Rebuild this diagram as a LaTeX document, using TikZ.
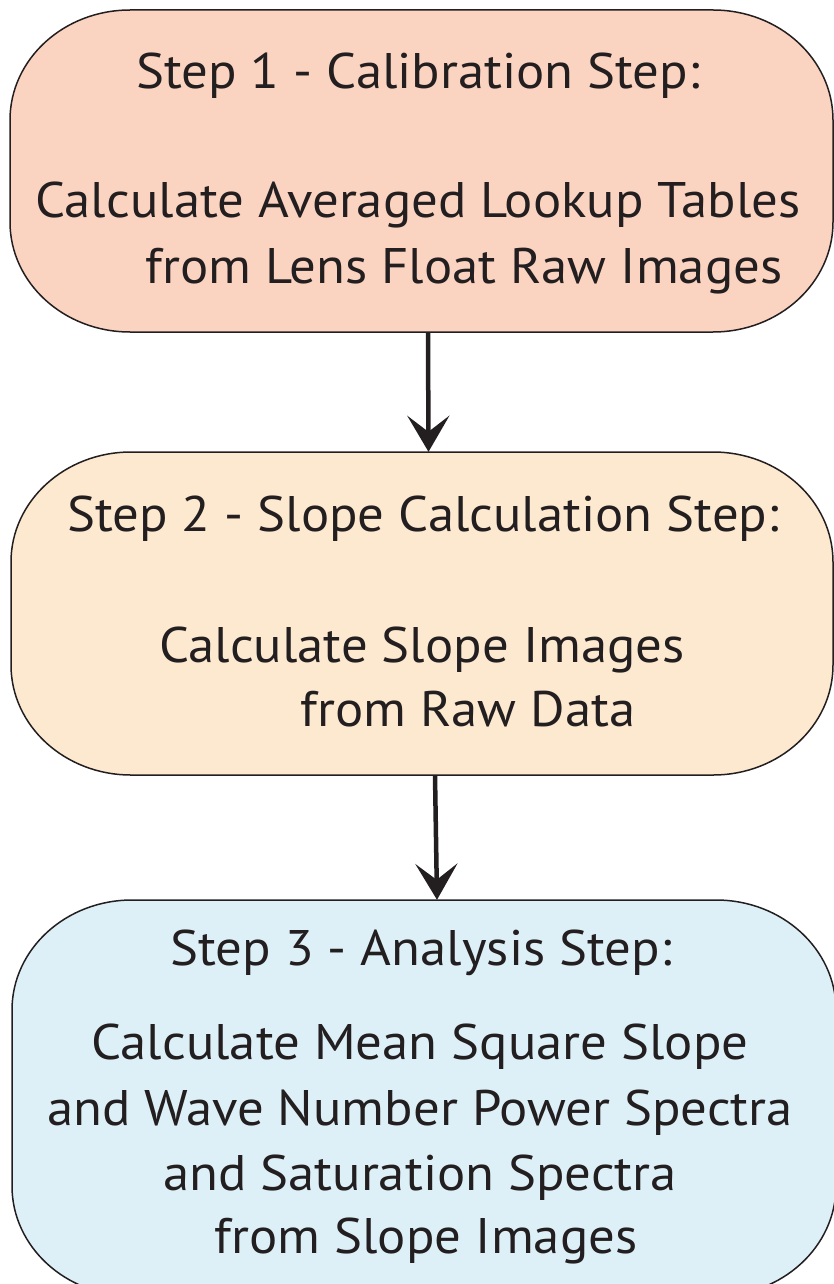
\documentclass[tikz,border=0pt]{standalone}
\usepackage{fontspec}
\setmainfont{PT Sans}[FakeStretch=1.055]
\usetikzlibrary{arrows.meta}

\definecolor{ink}{HTML}{231F20}
\definecolor{calfill}{RGB}{251,211,193}
\definecolor{slopefill}{RGB}{253,232,208}
\definecolor{anafill}{RGB}{222,240,247}

\tikzset{
  boxline/.style={draw=ink, line width=1.5pt},
  lbl/.style={font=\fontsize{50}{50}\selectfont, text=ink, anchor=base, inner sep=0pt},
  flow/.style={draw=ink, line width=4.5pt, -{Stealth[length=36pt,width=42pt,inset=16pt]}},
}

% rounded box with elliptical corners: #1 name, #2 fill, #3 left, #4 top, #5 right, #6 bottom
\newcommand{\stepbox}[6]{%
  \def\rx{120}\def\ry{110}\def\k{0.4477}%
  \path[boxline, fill=#2]
    (#3,#4+\ry)
    .. controls (#3,#4+\ry*\k) and (#3+\rx*\k,#4) .. (#3+\rx,#4)
    -- (#5-\rx,#4)
    .. controls (#5-\rx*\k,#4) and (#5,#4+\ry*\k) .. (#5,#4+\ry)
    -- (#5,#6-\ry)
    .. controls (#5,#6-\ry*\k) and (#5-\rx*\k,#6) .. (#5-\rx,#6)
    -- (#3+\rx,#6)
    .. controls (#3+\rx*\k,#6) and (#3,#6-\ry*\k) .. (#3,#6-\ry)
    -- cycle;
  \node[inner sep=0pt, minimum width=#5pt-#3pt, minimum height=#6pt-#4pt] (#1) at ({(#3+#5)/2},{(#4+#6)/2}) {};%
}

\begin{document}
\begin{tikzpicture}[x=1pt,y=-1pt]
  \useasboundingbox (0,0) rectangle (834,1284);

  \stepbox{calib}{calfill}{10}{10}{833}{332}
  \stepbox{slope}{slopefill}{11}{452}{833}{775}
  \stepbox{anal}{anafill}{12}{900}{836}{1296}

  % Step 1
  \node[lbl] (c1) at (418,89) {Step 1 - Calibration Step:};
  \node[lbl] (c2) at (418,218) {Calculate Averaged Lookup Tables};
  \node[lbl] (c3) at (464,283) {from Lens Float Raw Images};

  % Step 2
  \node[lbl] (s1) at (423,531) {Step 2 - Slope Calculation Step:};
  \node[lbl] (s2) at (422,662) {Calculate Slope Images};
  \node[lbl] (s3) at (468,726) {from Raw Data};

  % Step 3
  \node[lbl] (a1) at (421,965) {Step 3 - Analysis Step:};
  \node[lbl] (a2) at (420,1059) {Calculate Mean Square Slope};
  \node[lbl] (a3) at (420,1125) {and Wave Number Power Spectra};
  \node[lbl] (a4) at (420,1190) {and Saturation Spectra};
  \node[lbl] (a5) at (426,1253) {from Slope Images};

  % connectors
  \draw[flow] ([xshift=6.5pt]calib.south) -- ([xshift=6.5pt]slope.north);
  \draw[flow] ([xshift=13pt]slope.south) -- ([xshift=13pt]anal.north);
\end{tikzpicture}
\end{document}
